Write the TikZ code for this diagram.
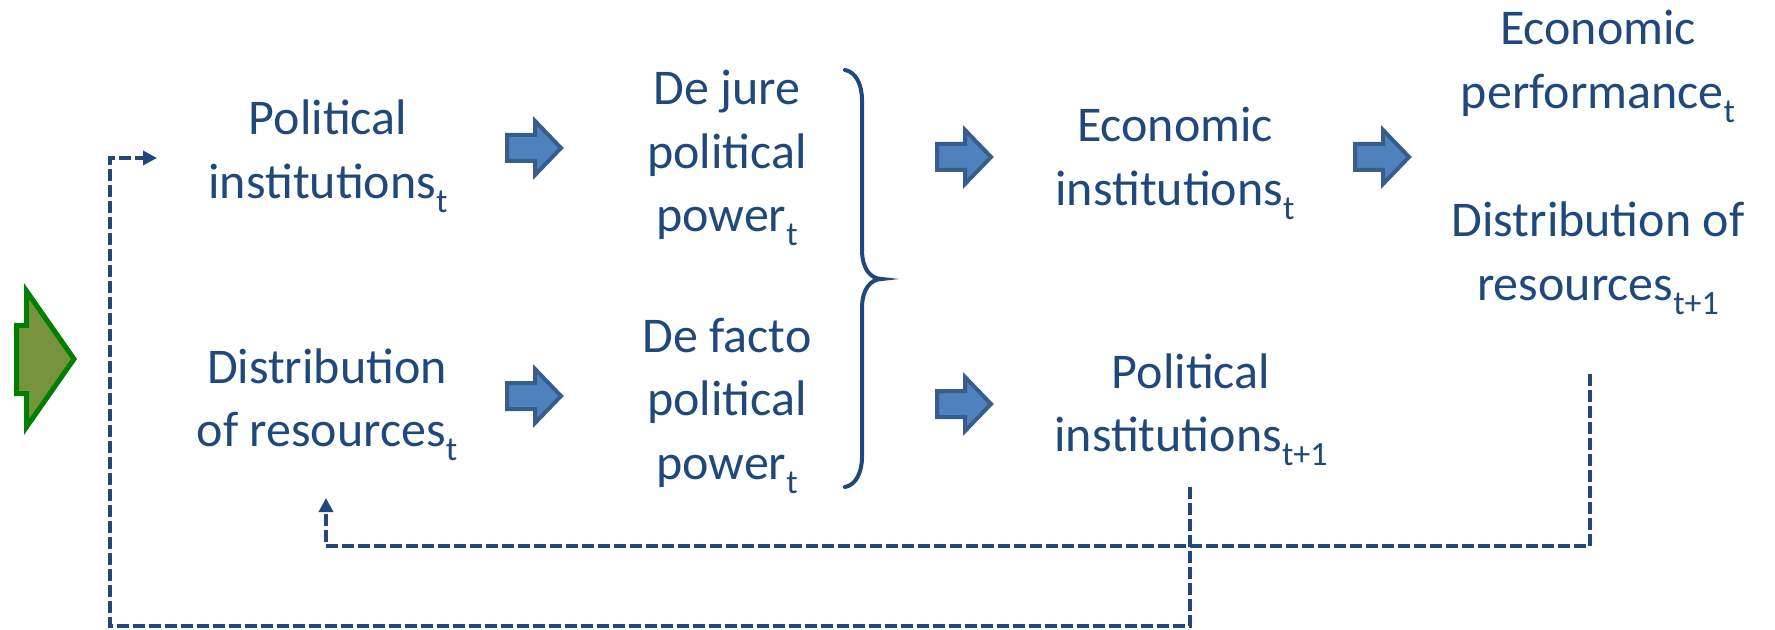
\documentclass[tikz,border=0pt]{standalone}
\usepackage{fontspec}
\setmainfont{Carlito}
\usetikzlibrary{arrows.meta}
\definecolor{txt}{HTML}{1F497D}
\definecolor{afill}{HTML}{4F81BD}
\definecolor{aline}{HTML}{385D8A}
\definecolor{gfill}{HTML}{77933C}
\definecolor{gline}{HTML}{008000}
\newcommand{\subs}[1]{\raisebox{-7pt}{\fontsize{17}{17}\selectfont #1}}
\newcommand{\blk}[1]{\begin{tabular}[t]{@{}c@{}}#1\end{tabular}}
\tikzset{
  lbl/.style={text=txt, font=\fontsize{25}{31.75}\selectfont, inner sep=0pt, anchor=base},
  blockarrow/.style={fill=afill, draw=aline, line width=2pt, line join=miter},
  barrow/.pic={\draw[blockarrow] (-57,-13) -- (-29,-13) -- (-29,-27) -- (-3,0) -- (-29,27) -- (-29,13) -- (-57,13) -- cycle;},
  bracestyle/.style={draw=txt, line width=2pt, line cap=round},
  fback/.style={draw=txt, line width=1.75pt, dash pattern=on 6pt off 2pt, -{Triangle[length=7pt,width=7pt]}}
}
\begin{document}
\begin{tikzpicture}[x=0.5pt,y=-0.5pt]
\useasboundingbox (0,0) rectangle (1775,630);
% green arrow
\draw[fill=gfill, draw=gline, line width=2.5pt, line join=miter]
  (16.5,325.5) -- (26.5,325.5) -- (26.5,291) -- (74,359) -- (26.5,427) -- (26.5,393.5) -- (16.5,393.5) -- cycle;
% texts
\node[lbl] (pi)  at (328,135)  {\blk{Political\\institutions\subs{t}}};
\node[lbl] (dr)  at (327,383)  {\blk{Distribution\\of resources\subs{t}}};
\node[lbl] (djp) at (727,105)  {\blk{De jure\\political\\power\subs{t}}};
\node[lbl] (dfp) at (727,352)  {\blk{De facto\\political\\power\subs{t}}};
\node[lbl] (ei)  at (1175,142) {\blk{Economic\\institutions\subs{t}}};
\node[lbl] (pi1) at (1191,388) {\blk{Political\\institutions\subs{t+1}}};
\node[lbl] (ep)  at (1598,45)  {\blk{Economic\\performance\subs{t}}};
\node[lbl] (dr1) at (1598,237) {\blk{Distribution of\\resources\subs{t+1}}};
% block arrows
\pic (a1) at (564,148) {barrow};
\pic (a2) at (564,396) {barrow};
\pic (a3) at (994,157) {barrow};
\pic (a4) at (994,404) {barrow};
\pic (a5) at (1412,157) {barrow};
% brace
\draw[bracestyle] (845,70) .. controls (856,72) and (862,85) .. (862,100) -- (862,250)
  .. controls (862,268) and (870,279) .. (882,279)
  .. controls (870,279) and (862,290) .. (862,308) -- (862,457)
  .. controls (862,472) and (856,485) .. (845,487);
% feedback loops
\coordinate (o1) at (1190,487);
\coordinate (piin) at (157,158);
\coordinate (o2) at (1590,374);
\coordinate (drin) at (326,498);
\draw[fback] (o1) |- (110,626) |- (piin);
\draw[fback] (o2) |- (326,546) -- (drin);
\end{tikzpicture}
\end{document}
